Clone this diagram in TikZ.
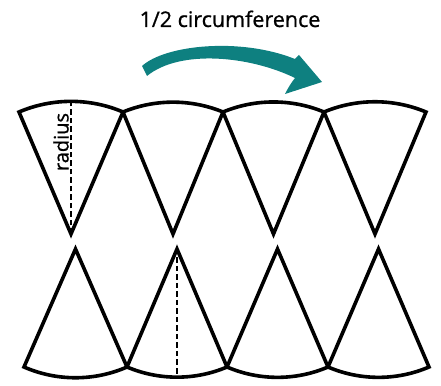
\documentclass[tikz,border=0pt]{standalone}
\usepackage{fontspec}
\setmainfont{Open Sans}
\newfontfamily\labelfont{Open Sans}[FakeBold=0.9]
\definecolor{arrowteal}{RGB}{14,128,128}
\begin{document}
\begin{tikzpicture}[x=1pt,y=1pt,
  sector/.style={draw=black, line width=3.6pt, line join=miter},
  radiusline/.style={draw=black, line width=1.7pt, dash pattern=on 5.5pt off 3pt},
  titletext/.style={inner sep=0pt, font=\labelfont\fontsize{21.5}{26}\selectfont},
  lbl/.style={inner sep=0pt, font=\labelfont\fontsize{20}{24}\selectfont}]
\useasboundingbox (0,0) rectangle (441,385);

% upper row: four sectors, tip down, arc on top
\foreach \l/\r [count=\i] in {19/123,123/223,223/324,324/426} {
  \pgfmathsetmacro\m{(\l+\r)/2}
  \pgfmathsetmacro\h{(\r-\l)/2}
  \pgfmathsetmacro\R{veclen(\h,122)}
  \pgfmathsetmacro\a{atan(\h/122)}
  \coordinate (t\i) at (\m,151);
  \draw[sector] (t\i) -- (\l,273)
    arc[start angle=90+\a, end angle=90-\a, radius=\R pt] -- cycle;
}

% lower row: four sectors, tip up, arc underneath
\foreach \l/\r [count=\i] in {24/127,127/227,227/328,328/429} {
  \pgfmathsetmacro\m{(\l+\r)/2}
  \pgfmathsetmacro\h{(\r-\l)/2}
  \pgfmathsetmacro\R{veclen(\h,118)}
  \pgfmathsetmacro\a{atan(\h/118)}
  \coordinate (b\i) at (\m,136);
  \draw[sector] (b\i) -- (\l,18)
    arc[start angle=270-\a, end angle=270+\a, radius=\R pt] -- cycle;
}

% radius markers
\coordinate (ttop) at (71,283.6);
\coordinate (bbot) at (177,7.8);
\draw[radiusline] (t1) -- (ttop);
\draw[radiusline] (b2) -- (bbot);
\node[lbl, rotate=90, anchor=base] (radlabel) at (68.5,243) {radius};

% heading and curved arrow
\node[titletext, anchor=base] (title) at (230,358) {1/2 circumference};
\begin{scope}[shift={(0,385)}, yscale=-1]
  \fill[arrowteal] (142,66) .. controls (165,45) and (240,37) .. (295,59)
    -- (299,55) -- (322,82) -- (285,94)
    .. controls (288,88) and (291,83) .. (295,78)
    .. controls (250,56) and (180,49) .. (147,76) -- cycle;
\end{scope}
\end{tikzpicture}
\end{document}
